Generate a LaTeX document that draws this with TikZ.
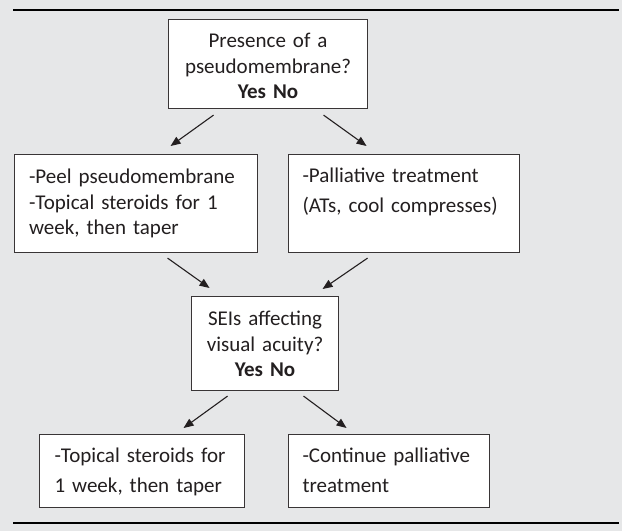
\documentclass[tikz,border=0pt]{standalone}
\usepackage{fontspec}
\setmainfont{Carlito}
\usetikzlibrary{calc,arrows.meta}
\definecolor{bggray}{HTML}{E6E7E8}
\definecolor{ink}{HTML}{231F20}

\begin{document}
\begin{tikzpicture}[x=1pt,y=-1pt,
  box/.style = {draw=ink!90, line width=1.1pt, fill=white, text=ink,
    anchor=north west, inner ysep=0pt},
  tight/.style = {font=\fontsize{21}{25.5}\selectfont},
  loose/.style = {font=\fontsize{21}{30}\selectfont},
  arr/.style = {-{Triangle[length=10pt,width=8pt]}, line width=1.1pt, draw=ink}]
  \fill[bggray] (0,0) rectangle (622,531);
  \draw[line width=1.6pt] (13,10) -- (619,10);
  \draw[line width=1.6pt] (13,523) -- (619,523);

  % first question
  \node[box, tight, align=center, inner xsep=8pt, text width=183pt,
    text height=28pt, text depth=61pt] (pm) at (168,19)
    {Presence of a\\pseudomembrane?\\\textbf{Yes No}};
  \node[box, tight, align=left, inner xsep=14.5pt, text width=214pt,
    text height=29pt, text depth=69pt] (peel) at (14,154)
    {-Peel pseudomembrane\\-Topical steroids for 1\\week, then taper};
  \node[box, loose, align=left, inner xsep=14pt, text width=203pt,
    text height=28pt, text depth=70pt] (pall) at (288,154)
    {-Palliative treatment\\(ATs, cool compresses)};

  % second question
  \node[box, tight, align=center, inner xsep=8pt, text width=131pt,
    text height=29pt, text depth=65pt] (sei) at (191,296)
    {SEIs affecting\\visual acuity?\\\textbf{Yes No}};
  \node[box, loose, align=left, inner xsep=15pt, text width=175pt,
    text height=28pt, text depth=45pt] (ster) at (39,434)
    {-Topical steroids for\\1 week, then taper};
  \node[box, loose, align=left, inner xsep=14pt, text width=173pt,
    text height=28pt, text depth=45pt] (cont) at (288,434)
    {-Continue palliative\\treatment};

  \draw[arr] ($(pm.south)+(-54.5,6)$) -- ($(peel.north)+(34.5,-8)$);
  \draw[arr] ($(pm.south)+(55.5,6)$) -- ($(pall.north)+(-37.5,-8)$);
  \draw[arr] ($(peel.south)+(31.5,5)$) -- ($(sei.north)+(-55.5,-8)$);
  \draw[arr] ($(pall.south)+(-36.5,5)$) -- ($(sei.north)+(57.5,-7)$);
  \draw[arr] ($(sei.south)+(-37.5,5)$) -- ($(ster.north)+(41.5,-6)$);
  \draw[arr] ($(sei.south)+(38.5,5)$) -- ($(cont.north)+(-42.5,-6)$);
\end{tikzpicture}
\end{document}
